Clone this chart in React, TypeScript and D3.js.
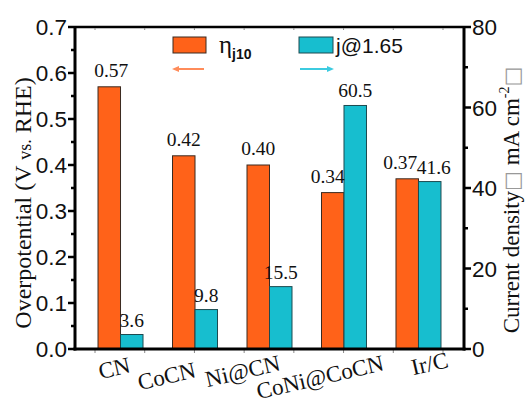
import React from "react";
import * as d3 from "d3";

const categories = ["CN", "CoCN", "Ni@CN", "CoNi@CoCN", "Ir/C"];
const overpotential = [0.57, 0.42, 0.40, 0.34, 0.37];
const currentDensity = [3.6, 9.8, 15.5, 60.5, 41.6];
const leftTicks = [0, 0.1, 0.2, 0.3, 0.4, 0.5, 0.6, 0.7];
const rightTicks = [0, 20, 40, 60, 80];

// layout-only nudges
const etaLabelDx = [2, 0, 0, -5, -7];
const jLabelDx = [0, 0, 0, 0, 4];
const xLabelDx = [11, 2, 12, 41, 31];
const xLabelDy = [0, 5, -2, -2, -5];

const W = 527, H = 407;
const M = { left: 75, right: 464, top: 27, bottom: 349 };
const ORANGE = "#FF6219";
const CYAN = "#17BECF";
const SANS = "Liberation Sans, Arial, sans-serif";
const SERIF = "Liberation Serif, Times New Roman, Times, serif";

export default function App() {
  const x0 = d3.scaleBand<string>().domain(categories).range([M.left, M.right]).paddingInner(0.396).paddingOuter(0.309);
  const x1 = d3.scaleBand<string>().domain(["eta", "j"]).range([0, x0.bandwidth()]);
  const yL = d3.scaleLinear().domain([0, 0.7]).range([M.bottom, M.top]);
  const yR = d3.scaleLinear().domain([0, 80]).range([M.bottom, M.top]);
  const leftMinor = d3.range(0.05, 0.7, 0.1);
  const rightMinor = d3.range(10, 80, 20);
  const xMinor = d3.scaleLinear().domain([0, 7]).range([95, 443]);
  const fmt2 = d3.format(".2f");
  const fmt1 = d3.format(".1f");

  return (
    <svg width={W} height={H} style={{ position: "absolute", left: 0, top: 0, background: "#fff" }}>
      {/* bars */}
      {categories.map((c, i) => {
        const gx = x0(c)!;
        return (
          <g key={c}>
            <rect x={gx + x1("eta")!} y={yL(overpotential[i])} width={x1.bandwidth()} height={M.bottom - yL(overpotential[i])}
              fill={ORANGE} stroke="#3a2a20" strokeWidth={1} />
            <rect x={gx + x1("j")!} y={yR(currentDensity[i])} width={x1.bandwidth()} height={M.bottom - yR(currentDensity[i])}
              fill={CYAN} stroke="#1d4a50" strokeWidth={1} />
            <text x={gx + x1("eta")! + x1.bandwidth() / 2 + etaLabelDx[i]} y={yL(overpotential[i]) - 10}
              style={{ fontFamily: SERIF }} fontSize={19.5} textAnchor="middle" fill="#111">{fmt2(overpotential[i])}</text>
            <text x={gx + x1("j")! + x1.bandwidth() / 2 + jLabelDx[i]} y={yR(currentDensity[i]) - 8}
              style={{ fontFamily: SERIF }} fontSize={19.5} textAnchor="middle" fill="#111">{fmt1(currentDensity[i])}</text>
            <text transform={`translate(${gx + x0.bandwidth() / 2 + xLabelDx[i]},${372 + xLabelDy[i]}) rotate(-13)`}
              style={{ fontFamily: SERIF }} fontSize={23} textAnchor="end" fill="#111">{c}</text>
          </g>
        );
      })}

      {/* frame: top line */}
      <line x1={M.left} x2={M.right} y1={M.top} y2={M.top} stroke="#000" strokeWidth={2.5} />
      {d3.range(8).map(k => (
        <g key={"xm" + k}>
          <line x1={xMinor(k)} x2={xMinor(k)} y1={M.top + 1} y2={M.top + 3} stroke="#888" strokeWidth={1} />
          <line x1={xMinor(k)} x2={xMinor(k)} y1={M.bottom + 1} y2={M.bottom + 4} stroke="#888" strokeWidth={1} />
        </g>
      ))}
      {/* bottom axis */}
      <line x1={M.left - 1.5} x2={M.right + 1.5} y1={M.bottom} y2={M.bottom} stroke="#000" strokeWidth={3} />

      {/* left axis */}
      <line x1={M.left} x2={M.left} y1={M.top - 1} y2={M.bottom + 1.5} stroke="#000" strokeWidth={3} />
      {leftTicks.map(t => (
        <g key={"l" + t}>
          <line x1={M.left - 7} x2={M.left} y1={yL(t)} y2={yL(t)} stroke="#000" strokeWidth={2.5} />
          <text x={M.left - 8} y={yL(t)} dy="0.36em" textAnchor="end" style={{ fontFamily: SANS }} fontSize={22.5} fill="#111">{d3.format(".1f")(t)}</text>
        </g>
      ))}
      {leftMinor.map(t => (
        <line key={"lm" + t} x1={M.left - 4} x2={M.left} y1={yL(t)} y2={yL(t)} stroke="#000" strokeWidth={2.5} />
      ))}

      {/* right axis */}
      <line x1={M.right} x2={M.right} y1={M.top - 1} y2={M.bottom + 1.5} stroke="#000" strokeWidth={3} />
      {rightTicks.map(t => (
        <g key={"r" + t}>
          <line x1={M.right} x2={M.right + 7} y1={yR(t)} y2={yR(t)} stroke="#000" strokeWidth={2.5} />
          <text x={M.right + 8} y={yR(t)} dy="0.36em" textAnchor="start" style={{ fontFamily: SANS }} fontSize={22.5} fill="#111">{t}</text>
        </g>
      ))}
      {rightMinor.map(t => (
        <line key={"rm" + t} x1={M.right} x2={M.right + 4} y1={yR(t)} y2={yR(t)} stroke="#000" strokeWidth={2.5} />
      ))}

      {/* axis titles */}
      <text transform={`translate(31,203) rotate(-90)`} textAnchor="middle" style={{ fontFamily: SERIF }} fontSize={24} fill="#111">
        Overpotential (V <tspan fontSize={18}>vs.</tspan> RHE)
      </text>
      <text transform={`translate(519,200) rotate(-90)`} textAnchor="middle" style={{ fontFamily: SERIF }} fontSize={23} fill="#111">
        Current density<tspan fill="#999" style={{ fontFamily: "DejaVu Sans" }} fontSize={21}>□</tspan> mA cm<tspan fontSize={14} dy={-10}>-2</tspan><tspan dy={10} fill="#999" style={{ fontFamily: "DejaVu Sans" }} fontSize={21}>□</tspan>
      </text>

      {/* legend */}
      <rect x={173} y={37} width={33} height={16} fill={ORANGE} stroke="#3a2a20" strokeWidth={1} />
      <text x={219} y={53} style={{ fontFamily: SERIF }} fontSize={25} fill="#111">η<tspan style={{ fontFamily: SANS }} fontWeight="bold" fontSize={14} dy={6}>j10</tspan></text>
      <line x1={177} x2={204} y1={69} y2={69} stroke="#FF8C5A" strokeWidth={2} />
      <path d="M172,69 L179,66 L179,72 Z" fill="#FF8C5A" />
      <rect x={299} y={37} width={34} height={16} fill={CYAN} stroke="#1d4a50" strokeWidth={1} />
      <text x={336} y={53} style={{ fontFamily: SANS }} fontSize={21} fill="#111">j@1.65</text>
      <line x1={300} x2={328} y1={69} y2={69} stroke="#3CCBE0" strokeWidth={2} />
      <path d="M334,69 L327,66 L327,72 Z" fill="#3CCBE0" />
    </svg>
  );
}
